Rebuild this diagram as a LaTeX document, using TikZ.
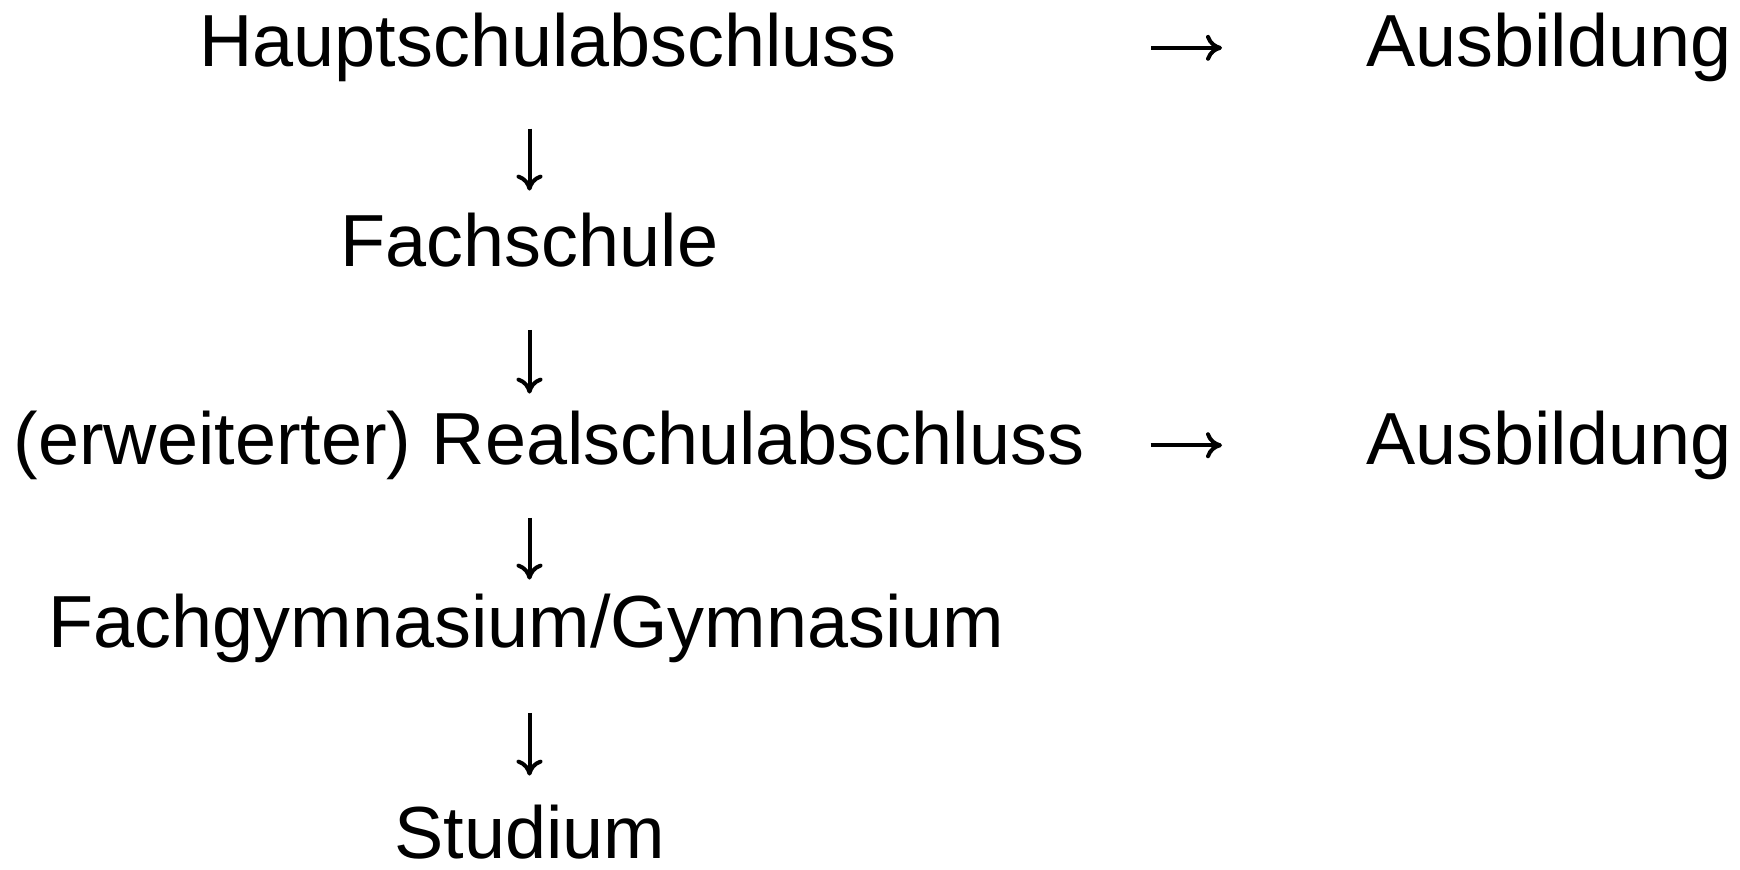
\documentclass[tikz,border=0pt]{standalone}
\usepackage{fontspec}
\setmainfont{Liberation Sans}
\usetikzlibrary{arrows.meta}
\usetikzlibrary{positioning}

\tikzset{
	stage/.style={inner sep=0pt, text height=26.5pt, text depth=7.75pt, font=\fontsize{36.9}{44}\selectfont},
	conn/.style={-{Computer Modern Rightarrow[length=8pt, width=13pt]}, line width=2pt}
}

\begin{document}
\begin{tikzpicture}[x=0.5pt, y=-0.5pt]

	\useasboundingbox (0,0) rectangle (1740,869);

	% left column
	\node [stage, anchor=base] at (548,66.6) (haupt){Hauptschulabschluss};
	\node [stage, anchor=base] at (529.5,266) (fach){Fachschule};
	\node [stage, anchor=base] at (549,464) (real){(erweiterter) Realschulabschluss};
	\node [stage, anchor=base] at (526.5,647) (gym){Fachgymnasium/Gymnasium};
	\node [stage, anchor=base, text depth=0pt] at (530,858) (studium){Studium};

	% right column
	\node [stage, anchor=base west] at (1366,66.6) (ausb1){Ausbildung};
	\node [stage, anchor=base west] at (1366,464) (ausb2){Ausbildung};

	% vertical arrows
	\draw [conn, shorten <=23pt, shorten >=11pt] (fach.north |- haupt.south) -- (fach.north);
	\draw [conn, shorten <=24pt, shorten >=8.5pt] (fach.south) -- (fach.south |- real.north);
	\draw [conn, shorten <=19pt, shorten >=7pt] (fach.south |- real.south) -- (fach.south |- gym.north);
	\draw [conn, shorten <=25pt, shorten >=14.5pt] (fach.south |- gym.south) -- (fach.south |- studium.north);

	% arrows to Ausbildung
	\draw [conn, shorten <=127pt, shorten >=72pt] (haupt) -- (ausb1);
	\draw [conn, shorten <=33pt, shorten >=72pt] (real) -- (ausb2);

\end{tikzpicture}
\end{document}
